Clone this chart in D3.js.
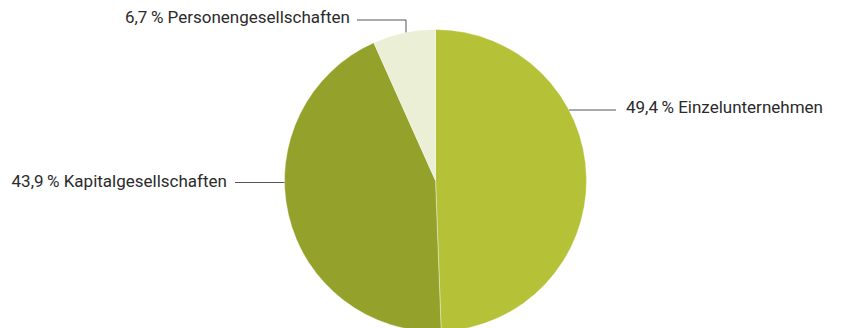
<!DOCTYPE html>
<html>
<head>
<meta charset="utf-8">
<script src="https://cdn.jsdelivr.net/npm/d3@7"></script>
<style>
  html, body { margin: 0; padding: 0; background: #fff; }
  svg { display: block; }
  text { font-family: "Roboto", "Noto Sans", sans-serif; fill: #2b2b2b; }
</style>
</head>
<body>
<svg id="chart" width="841" height="328"></svg>
<script>
// Share of enterprises by legal form (percent), clockwise from 12 o'clock
const categories = ["Einzelunternehmen", "Kapitalgesellschaften", "Personengesellschaften"];
const shares = [49.4, 43.9, 6.7];
const colors = ["#b5c237", "#94a12b", "#eaefd6"];

const W = 841, H = 328;
const cx = 435.5, cy = 180.5, R = 151;

const svg = d3.select("#chart");
const g = svg.append("g").attr("transform", `translate(${cx},${cy})`);

const pie = d3.pie().sort(null).value(d => d.value);
const arc = d3.arc().innerRadius(0).outerRadius(R);
const data = categories.map((c, i) => ({ name: c, value: shares[i], color: colors[i] }));
const arcs = pie(data);

g.selectAll("path.slice")
  .data(arcs)
  .join("path")
  .attr("class", "slice")
  .attr("d", arc)
  .attr("fill", d => d.data.color)
  .attr("stroke", "rgba(255,255,255,0.55)")
  .attr("stroke-width", 0.7);

const fmt = v => d3.format(".1f")(v).replace(".", ",") + "\u2009%";
const lineColor = "#555";
const fontSize = 17;

// x on the circle for a given y (left or right side)
const edgeX = (y, side) => cx + side * Math.sqrt(R * R - (y - cy) * (y - cy));
const edgeY = (x) => cy - Math.sqrt(R * R - (x - cx) * (x - cx));

// Einzelunternehmen: horizontal leader to the right
{
  const y = 110;
  const x0 = edgeX(y, 1), x1 = 616;
  svg.append("line").attr("x1", x0).attr("y1", y).attr("x2", x1).attr("y2", y)
    .attr("stroke", lineColor).attr("stroke-width", 1);
  svg.append("text").attr("x", 626).attr("y", 113.3).attr("font-size", fontSize)
    .text(`${fmt(shares[0])} ${categories[0]}`);
}
// Kapitalgesellschaften: horizontal leader to the left
{
  const y = 182.5;
  const x0 = edgeX(y, -1), x1 = 235;
  svg.append("line").attr("x1", x0).attr("y1", y).attr("x2", x1).attr("y2", y)
    .attr("stroke", lineColor).attr("stroke-width", 1);
  svg.append("text").attr("x", 227).attr("y", 186.7).attr("font-size", fontSize)
    .attr("text-anchor", "end")
    .text(`${fmt(shares[1])} ${categories[1]}`);
}
// Personengesellschaften: elbow leader from the top of the slice
{
  const xv = 406, yh = 20;
  const yEdge = edgeY(xv);
  svg.append("path")
    .attr("d", `M${xv},${yEdge}V${yh}H357`)
    .attr("fill", "none").attr("stroke", lineColor).attr("stroke-width", 1);
  svg.append("text").attr("x", 350).attr("y", 22.7).attr("font-size", fontSize)
    .attr("text-anchor", "end")
    .text(`${fmt(shares[2])} ${categories[2]}`);
}
</script>
</body>
</html>
